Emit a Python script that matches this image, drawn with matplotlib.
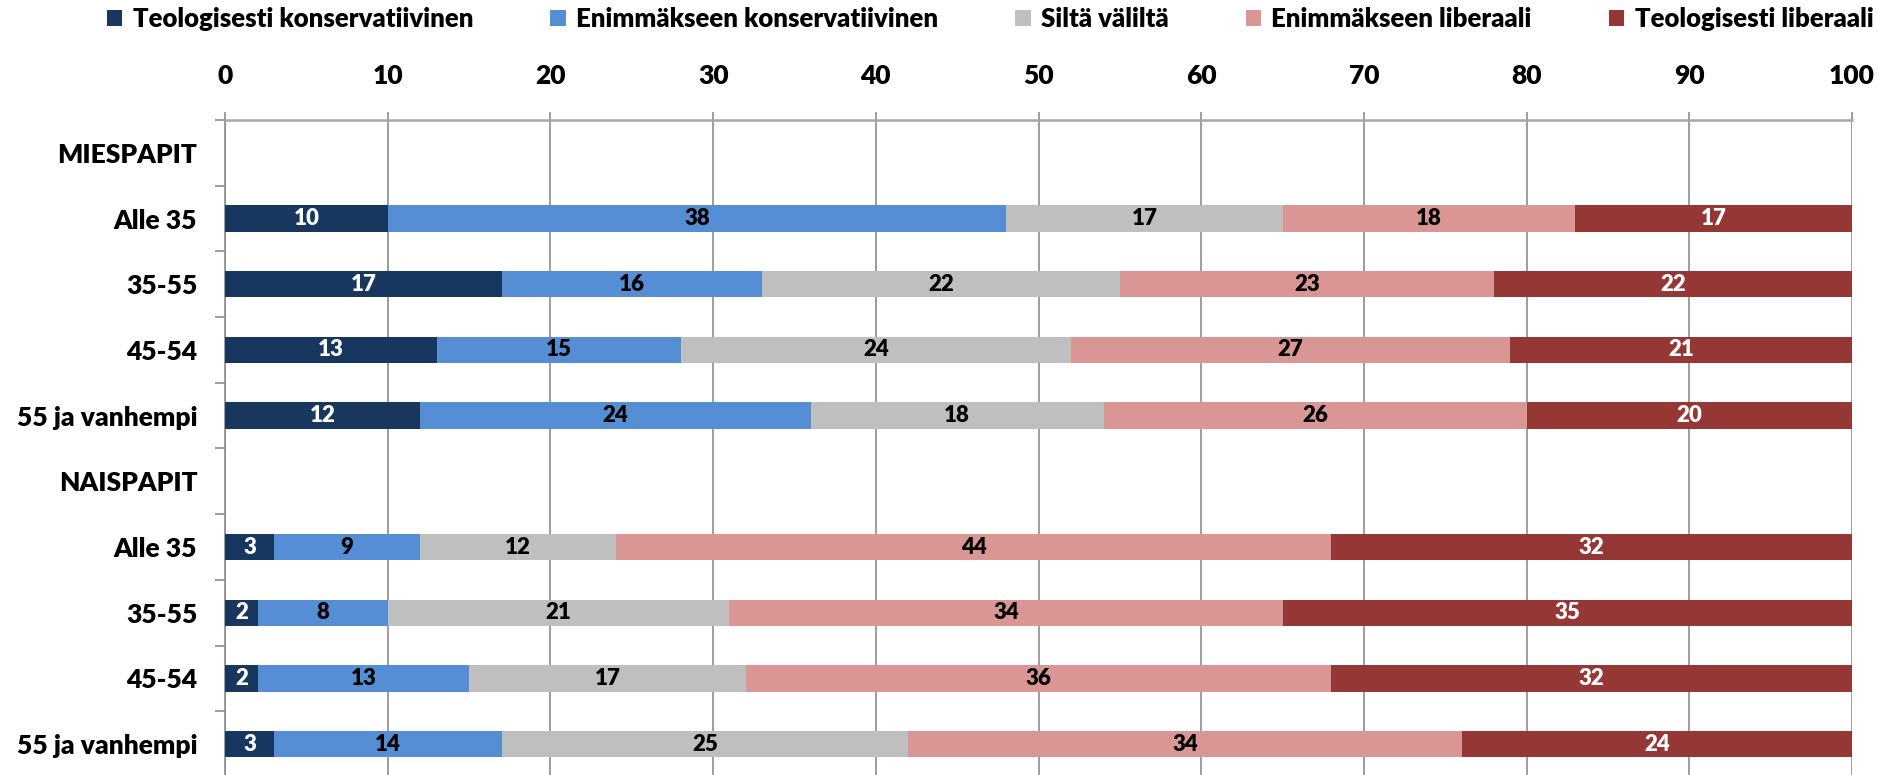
'''
Stacked bar chart: theological views of priests by gender and age group.
'''

import numpy as np
from matplotlib import pyplot as plt
from matplotlib.patches import Patch

plt.rcParams['font.family'] = ['Lato', 'DejaVu Sans']
plt.rcParams['font.weight'] = 800

######################

categories = ['MIESPAPIT', 'Alle 35', '35-55', '45-54', '55 ja vanhempi',
              'NAISPAPIT', 'Alle 35', '35-55', '45-54', '55 ja vanhempi']

series_names = ['Teologisesti konservatiivinen', 'Enimmäkseen konservatiivinen',
                'Siltä väliltä', 'Enimmäkseen liberaali', 'Teologisesti liberaali']

# None = header row, no bar
teol_kons = [None, 10, 17, 13, 12, None, 3, 2, 2, 3]
enim_kons = [None, 38, 16, 15, 24, None, 9, 8, 13, 14]
silta     = [None, 17, 22, 24, 18, None, 12, 21, 17, 25]
enim_lib  = [None, 18, 23, 27, 26, None, 44, 34, 36, 34]
teol_lib  = [None, 17, 22, 21, 20, None, 32, 35, 32, 24]

colors = ['#17375E', '#558ED5', '#BFBFBF', '#D99694', '#953735']
text_colors = ['white', 'black', 'black', 'black', 'white']

x_ticks = np.arange(0, 101, 10)

######################

fig = plt.figure(figsize=(18.77, 7.75), dpi=100)
ax = fig.add_axes([0.1199, -0.0026, 0.8668, 0.8478])

y = np.arange(len(categories))
left = np.zeros(len(categories))
for name, vals, c, tc in zip(series_names,
                             [teol_kons, enim_kons, silta, enim_lib, teol_lib],
                             colors, text_colors):
    w = np.array([0 if v is None else v for v in vals], dtype=float)
    bars = ax.barh(y, w, left=left, height=0.4, color=c, label=name, zorder=3)
    labels = ['' if v is None else str(v) for v in vals]
    ax.bar_label(bars, labels=labels, label_type='center', color=tc,
                 fontsize=16, fontweight=800)
    left += w

ax.set_xlim(0, 100)
ax.set_ylim(len(categories) - 0.5, -0.5)
ax.xaxis.tick_top()
ax.set_xticks(x_ticks)
ax.tick_params(axis='x', length=6, width=1.2, color='#8C8C8C', pad=17,
               labelsize=19)
ax.set_yticks(y)
ax.set_yticklabels(categories)
ax.set_yticks(np.arange(-0.5, len(categories), 1), minor=True)
ax.tick_params(axis='y', which='major', length=0, pad=20, labelsize=19)
ax.tick_params(axis='y', which='minor', length=7, width=1.2, color='#8C8C8C')

ax.grid(axis='x', color='#8C8C8C', linewidth=1.2, zorder=0)
ax.set_axisbelow(True)
for s in ['right', 'bottom']:
    ax.spines[s].set_visible(False)
ax.spines['left'].set_color('#8C8C8C')
ax.spines['left'].set_linewidth(1.2)
ax.spines['top'].set_color('#A6A6A6')
ax.spines['top'].set_linewidth(1.8)

handles = [Patch(facecolor=c, label=n) for c, n in zip(colors, series_names)]
fig.legend(handles=handles, loc='center', bbox_to_anchor=(0.5275, 0.975),
           ncol=5, frameon=False, fontsize=18.5, handlelength=0.6,
           handleheight=0.6, handletextpad=0.4, columnspacing=3.0)

fig.savefig('out.png', dpi=100)
